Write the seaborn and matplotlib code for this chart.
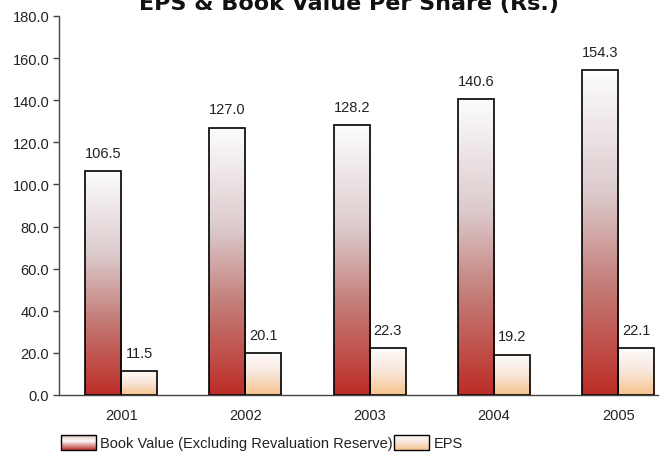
import numpy as np
import pandas as pd
import seaborn as sns
import matplotlib.pyplot as plt
from matplotlib.colors import LinearSegmentedColormap
from matplotlib.patches import Rectangle

years = ['2001', '2002', '2003', '2004', '2005']
book_value = [106.5, 127.0, 128.2, 140.6, 154.3]
eps = [11.5, 20.1, 22.3, 19.2, 22.1]
series = ['Book Value (Excluding Revaluation Reserve)', 'EPS']

df = pd.DataFrame({
    'year': years * 2,
    'value': book_value + eps,
    'series': [series[0]] * len(years) + [series[1]] * len(years),
})

sns.set_style('white')
plt.rcParams['font.family'] = ['Liberation Sans', 'DejaVu Sans']

# gradients (bottom -> top)
cmap_book = LinearSegmentedColormap.from_list(
    'book', [(0, '#BD2C26'), (0.35, '#C4807B'), (0.62, '#DCCACC'), (1, '#FDFDFE')])
cmap_eps = LinearSegmentedColormap.from_list(
    'eps', [(0, '#F7C38C'), (0.5, '#F8E6DA'), (1, '#FDFCFC')])
cmap_book_leg = LinearSegmentedColormap.from_list(
    'bookleg', [(0, '#BD2C26'), (0.55, '#FCF7F7'), (0.75, '#F2E2E2'), (1, '#CD8E8C')])

fig = plt.figure(figsize=(6.7, 4.56), dpi=100)
ax = fig.add_axes([59 / 670, 60 / 456, 599 / 670, 379 / 456])

sns.barplot(data=df, x='year', y='value', hue='series', hue_order=series,
            width=0.58, ax=ax, legend=False, saturation=1)

grad = np.linspace(0, 1, 256).reshape(-1, 1)
n = len(years)
for i, p in enumerate(ax.patches):
    x, w, h = p.get_x(), p.get_width(), p.get_height()
    cmap = cmap_book if i < n else cmap_eps
    ax.imshow(grad, extent=[x, x + w, 0, h], origin='lower', aspect='auto',
              cmap=cmap, zorder=1.5)
    p.set_facecolor('none')
    p.set_edgecolor('black')
    p.set_linewidth(1.2)
    p.set_zorder(2)

for c in ax.containers:
    ax.bar_label(c, fmt='%.1f', padding=8, fontsize=10.5, color='#222222')

ax.set_xlim(-0.5, 4.32)
ax.set_ylim(0, 180)
ax.set_yticks(np.arange(0, 181, 20))
ax.set_yticklabels([f'{v:.1f}' for v in np.arange(0, 181, 20)])
ax.set_xlabel('')
ax.set_ylabel('')
sns.despine(ax=ax)
for s in ['left', 'bottom']:
    ax.spines[s].set_color('#444444')
    ax.spines[s].set_linewidth(1)
ax.tick_params(axis='y', left=True, length=4, width=1, color='#444444',
               labelsize=10.5, labelcolor='#222222', pad=3)
ax.tick_params(axis='x', bottom=False, labelsize=10.5, labelcolor='#222222', pad=6)

# title is partly cut off at the top edge, as in the original
fig.text(349 / 670, 1 - 10 / 456, 'EPS & Book Value Per Share (Rs.)',
         ha='center', va='baseline', fontsize=16, fontweight='bold',
         family=['DejaVu Sans'], color='#111111')

handles = [Rectangle((0, 0), 1, 1, facecolor='none', edgecolor='black', lw=1.0)
           for _ in series]
leg = ax.legend(handles, series, ncol=2, frameon=False, fontsize=10.5,
                handlelength=2.4, handleheight=1.3, handletextpad=0.3,
                columnspacing=0.1, borderpad=0, borderaxespad=0,
                loc='center left', bbox_to_anchor=(61 / 670, 12.5 / 456),
                bbox_transform=fig.transFigure)
for t in leg.get_texts():
    t.set_color('#222222')

fig.canvas.draw()
renderer = fig.canvas.get_renderer()
for p, cmap in zip(leg.get_patches(), [cmap_book_leg, cmap_eps]):
    bb = p.get_window_extent(renderer).transformed(fig.transFigure.inverted())
    sw = fig.add_axes([bb.x0, bb.y0, bb.width, bb.height], zorder=-1)
    sw.imshow(grad, origin='lower', aspect='auto', cmap=cmap,
              extent=[0, 1, 0, 1])
    sw.axis('off')

fig.savefig('out.png', dpi=100)
